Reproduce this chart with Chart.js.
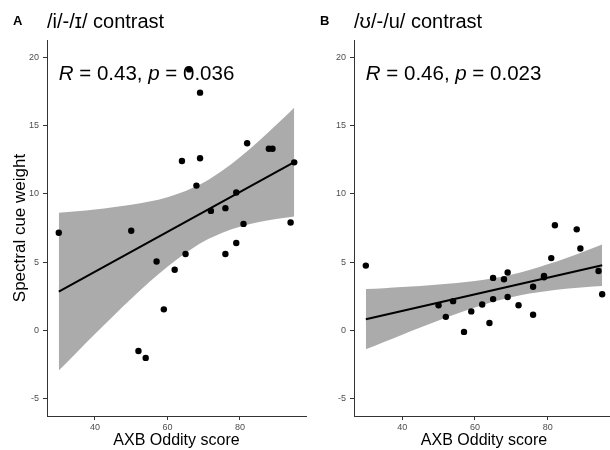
<!DOCTYPE html>
<html>
<head>
<meta charset="utf-8">
<script src="https://cdn.jsdelivr.net/npm/chart.js@4"></script>
<style>
  html, body { margin: 0; padding: 0; background: #fff; }
  body { width: 610px; height: 450px; overflow: hidden; position: relative; }
  canvas { position: absolute; top: 0; }
  #chartA { left: 0; }
  #chartB { left: 307px; }
</style>
</head>
<body>
<canvas id="chartA" width="310" height="450"></canvas>
<canvas id="chartB" width="311" height="450"></canvas>
<script>
const FONT = "'Liberation Sans', Arial, sans-serif";

// participants' AXB oddity scores
const oddityA = [30, 50, 52, 54, 57, 59, 62, 64, 65, 66, 68, 69, 69, 72, 76, 76, 79, 79, 81, 82, 88, 89, 94, 95];
const weightA = [7.15, 7.3, -1.5, -2.0, 5.05, 1.55, 4.45, 12.4, 5.6, 19.1, 10.6, 17.4, 12.6, 8.75, 8.95, 5.6, 10.1, 6.4, 7.8, 13.7, 13.3, 13.3, 7.9, 12.3];

const oddityB = [30, 50, 52, 54, 57, 59, 62, 64, 65, 65, 68, 69, 69, 72, 76, 76, 79, 79, 81, 82, 88, 89, 94, 95];
const weightB = [4.75, 1.85, 1.0, 2.15, -0.1, 1.4, 1.9, 0.55, 3.85, 2.3, 3.75, 4.25, 2.45, 1.85, 3.2, 1.15, 4.0, 3.9, 5.3, 7.7, 7.4, 6.0, 4.35, 2.65];

// fitted line ends and confidence band
const fitX = [30, 95];
const fitA = [2.84, 12.32];
const fitB = [0.83, 4.78];

const bandX = [30, 35, 40, 45, 50, 55, 60, 65, 70, 75, 80, 85, 90, 95];
const upperA = [8.61, 8.72, 8.85, 9.01, 9.20, 9.43, 9.75, 10.20, 10.82, 11.66, 12.67, 13.80, 15.03, 16.30];
const lowerA = [-2.93, -1.58, -0.25, 1.05, 2.32, 3.55, 4.67, 5.68, 6.52, 7.14, 7.59, 7.92, 8.15, 8.34];
const upperB = [3.03, 3.10, 3.18, 3.26, 3.36, 3.47, 3.62, 3.82, 4.08, 4.43, 4.84, 5.29, 5.79, 6.30];
const lowerB = [-1.37, -0.84, -0.30, 0.22, 0.74, 1.23, 1.68, 2.10, 2.44, 2.71, 2.90, 3.05, 3.17, 3.26];

const xTicks = [40, 60, 80];
const yTicks = [-5, 0, 5, 10, 15, 20];

const panelLetters = ['A', 'B'];
const panelTitles = ['/i/-/ɪ/ contrast', '/ʊ/-/u/ contrast'];
const statR = ['0.43', '0.46'];
const statP = ['0.036', '0.023'];
const statPos = [30, 18.35];

const xTitle = 'AXB Oddity score';
const yTitle = 'Spectral cue weight';

const pts = (xs, ys) => xs.map((x, i) => ({ x: x, y: ys[i] }));

const panelText = {
  id: 'panelText',
  afterDraw(chart, args, opts) {
    const ctx = chart.ctx;
    const area = chart.chartArea;
    ctx.save();
    ctx.fillStyle = '#000';
    ctx.textAlign = 'left';
    ctx.textBaseline = 'alphabetic';
    ctx.font = 'bold 13px ' + FONT;
    ctx.fillText(opts.letter, 13, 25);
    ctx.font = '20px ' + FONT;
    ctx.fillText(opts.title, area.left, 28);

    let x = chart.scales.x.getPixelForValue(statPos[0]);
    const y = chart.scales.y.getPixelForValue(statPos[1]);
    const parts = [
      { t: 'R', it: true }, { t: ' = ' + opts.r + ', ' },
      { t: 'p', it: true }, { t: ' = ' + opts.p }
    ];
    parts.forEach(p => {
      ctx.font = (p.it ? 'italic ' : '') + '20.5px ' + FONT;
      ctx.fillText(p.t, x, y);
      x += ctx.measureText(p.t).width;
    });
    ctx.restore();
  }
};

function axis(min, max, ticks, size, horizontal, title) {
  return {
    type: 'linear',
    min: min,
    max: max,
    afterBuildTicks: s => { s.ticks = ticks.map(v => ({ value: v })); },
    afterFit: s => { if (horizontal) s.height = size; else s.width = size; },
    grid: { drawOnChartArea: false, drawTicks: true, tickLength: 4, tickColor: '#333', tickWidth: 1 },
    border: { display: true, color: '#333', width: 1 },
    ticks: { color: '#4d4d4d', font: { size: 9, family: FONT }, padding: horizontal ? 2 : 4, maxRotation: 0 },
    title: {
      display: !!title,
      text: title || '',
      color: '#000',
      font: { size: horizontal ? 16 : 17, family: FONT },
      padding: horizontal ? { top: 0, bottom: 0 } : { top: 10, bottom: 0 }
    }
  };
}

function makeChart(id, idx, xs, ys, fit, upper, lower) {
  return new Chart(document.getElementById(id), {
    type: 'scatter',
    data: {
      datasets: [
        {
          data: pts(bandX, lower), showLine: true, pointRadius: 0, borderWidth: 0,
          borderColor: 'rgba(0,0,0,0)', cubicInterpolationMode: 'monotone', fill: false, order: 3
        },
        {
          data: pts(bandX, upper), showLine: true, pointRadius: 0, borderWidth: 0,
          borderColor: 'rgba(0,0,0,0)', backgroundColor: '#ababab',
          cubicInterpolationMode: 'monotone', fill: 0, order: 2
        },
        {
          data: pts(fitX, fit), showLine: true, pointRadius: 0, borderWidth: 2,
          borderColor: '#000', fill: false, order: 1
        },
        {
          data: pts(xs, ys), pointRadius: 3.2, pointBackgroundColor: '#000',
          pointBorderColor: '#000', pointBorderWidth: 0, order: 0
        }
      ]
    },
    options: {
      responsive: false,
      animation: false,
      devicePixelRatio: 1,
      layout: { padding: { top: 40, right: 3, left: 0, bottom: 0 } },
      plugins: {
        legend: { display: false },
        tooltip: { enabled: false },
        panelText: { letter: panelLetters[idx], title: panelTitles[idx], r: statR[idx], p: statP[idx] }
      },
      scales: {
        x: axis(26.75, 98.25, xTicks, 34, true, xTitle),
        y: axis(-6.25, 21.25, yTicks, 47, false, idx === 0 ? yTitle : null)
      }
    },
    plugins: [panelText]
  });
}

makeChart('chartA', 0, oddityA, weightA, fitA, upperA, lowerA);
makeChart('chartB', 1, oddityB, weightB, fitB, upperB, lowerB);
</script>
</body>
</html>
